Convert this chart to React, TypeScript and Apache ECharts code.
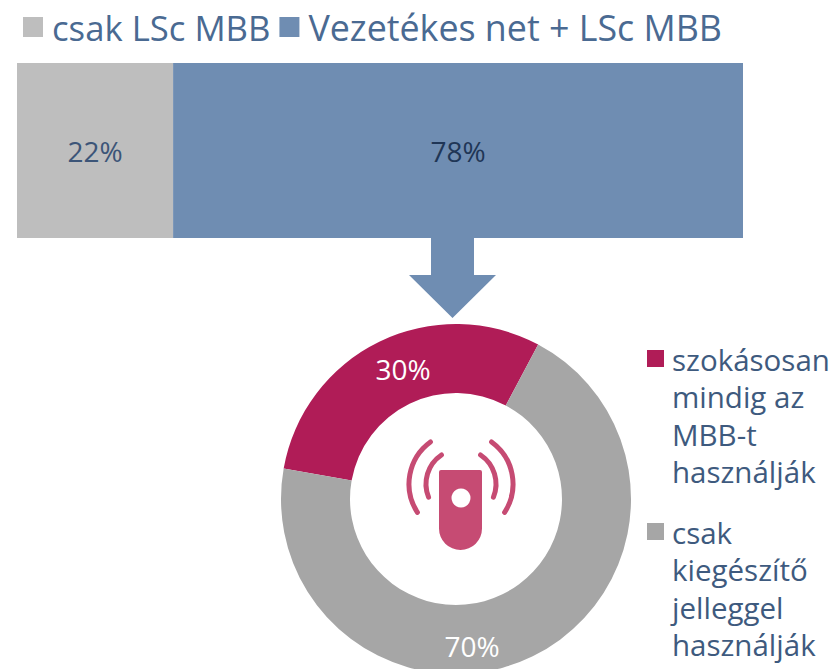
import React, { useEffect, useRef } from "react";
import * as echarts from "echarts";

const barNames = ["csak LSc MBB", "Vezetékes net + LSc MBB"];
const barValues = [21.5, 78.5];
const barLabels = ["22%", "78%"];
const barLabelColors = ["#3C5578", "#1F3656"];
const barColors = ["#BEBEBE", "#6F8DB2"];
const barLegendSizes = [34.7, 35.8];

const pieNames = ["szokásosan mindig az MBB-t használják", "csak kiegészítő jelleggel használják"];
const pieValues = [30, 70];
const pieLabels = ["30%", "70%"];
const pieColors = ["#B01C57", "#A6A6A6"];
const pieLegendLines = [
  ["szokásosan", "mindig az", "MBB-t", "használják"],
  ["csak", "kiegészítő", "jelleggel", "használják"],
];

const FONT = "'Open Sans', 'Noto Sans', sans-serif";
const TEXT = "#3E5A7E";
const ICON = "#C64B73";

echarts.graphic.registerShape(
  "phoneBody",
  echarts.graphic.extendPath("M441 470 H480 Q482 470 482 472 V528.5 A21.5 21.5 0 0 1 439 528.5 V472 Q439 470 441 470 Z", {})
);

function wave(r: number, fromDeg: number, toDeg: number) {
  return {
    type: "arc",
    shape: { cx: 461, cy: 484, r, startAngle: (fromDeg * Math.PI) / 180, endAngle: (toDeg * Math.PI) / 180, clockwise: true },
    style: { stroke: ICON, lineWidth: 5, lineCap: "round", fill: "none" },
  };
}

function legendItems() {
  const out: any[] = [];
  const tops = [350, 523];
  pieLegendLines.forEach((lines, i) => {
    out.push({ type: "rect", shape: { x: 647, y: tops[i], width: 17, height: 17 }, style: { fill: pieColors[i] } });
    lines.forEach((line, j) => {
      out.push({
        type: "text",
        x: 672,
        y: tops[i] + 9 + j * 37.6,
        style: { text: line, fill: TEXT, font: `29.5px ${FONT}`, verticalAlign: "middle" },
      });
    });
  });
  return out;
}

export default function App() {
  const ref = useRef<HTMLDivElement>(null);
  useEffect(() => {
    const chart = echarts.init(ref.current!, null, { renderer: "svg" });
    chart.setOption({
      animation: false,
      backgroundColor: "#FFFFFF",
      legend: {
        data: barNames.map((name, i) => ({ name, textStyle: { fontSize: barLegendSizes[i] } })),
        left: 23,
        top: 9,
        padding: 0,
        itemWidth: 20,
        itemHeight: 20,
        itemGap: 9,
        icon: "rect",
        textStyle: { color: "#4A6A92", fontFamily: FONT, padding: [0, 0, 0, 4] },
      },
      grid: { left: 17, top: 63, width: 726, height: 175 },
      xAxis: { type: "value", min: 0, max: 100, show: false },
      yAxis: { type: "category", data: ["MBB"], show: false },
      series: [
        ...barNames.map((name, i) => ({
          type: "bar",
          name,
          stack: "total",
          barWidth: 175,
          data: [barValues[i]],
          itemStyle: { color: barColors[i] },
          label: {
            show: true,
            position: "inside",
            formatter: barLabels[i],
            color: barLabelColors[i],
            fontSize: 28,
            fontFamily: FONT,
          },
        })),
        {
          type: "pie",
          center: [456, 499],
          radius: [106, 175],
          startAngle: 170,
          clockwise: true,
          silent: true,
          data: pieNames.map((name, i) => ({ name, value: pieValues[i], itemStyle: { color: pieColors[i] } })),
          label: {
            show: true,
            position: "inside",
            formatter: (p: any) => pieLabels[p.dataIndex],
            color: "#FFFFFF",
            fontSize: 28,
            fontFamily: FONT,
          },
          labelLayout: (p: any) => (p.dataIndex === 0 ? { x: 403, y: 369, align: "center", verticalAlign: "middle" } : { x: 472, y: 646, align: "center", verticalAlign: "middle" }),
          labelLine: { show: false },
        },
      ],
      graphic: [
        {
          type: "polygon",
          shape: { points: [[431, 238], [474, 238], [474, 275], [496, 275], [452.5, 318], [409, 275], [431, 275]] },
          style: { fill: "#6F8DB2" },
        },
        { type: "phoneBody", style: { fill: ICON } },
        { type: "circle", shape: { cx: 461, cy: 498, r: 9.5 }, style: { fill: "#FFFFFF" } },
        wave(52, 147, 234),
        wave(35, 158, 236),
        wave(52, -54, 33),
        wave(35, -56, 22),
        ...legendItems(),
      ],
    });
    return () => chart.dispose();
  }, []);
  return <div ref={ref} style={{ position: "absolute", left: 0, top: 0, width: 831, height: 669 }} />;
}
